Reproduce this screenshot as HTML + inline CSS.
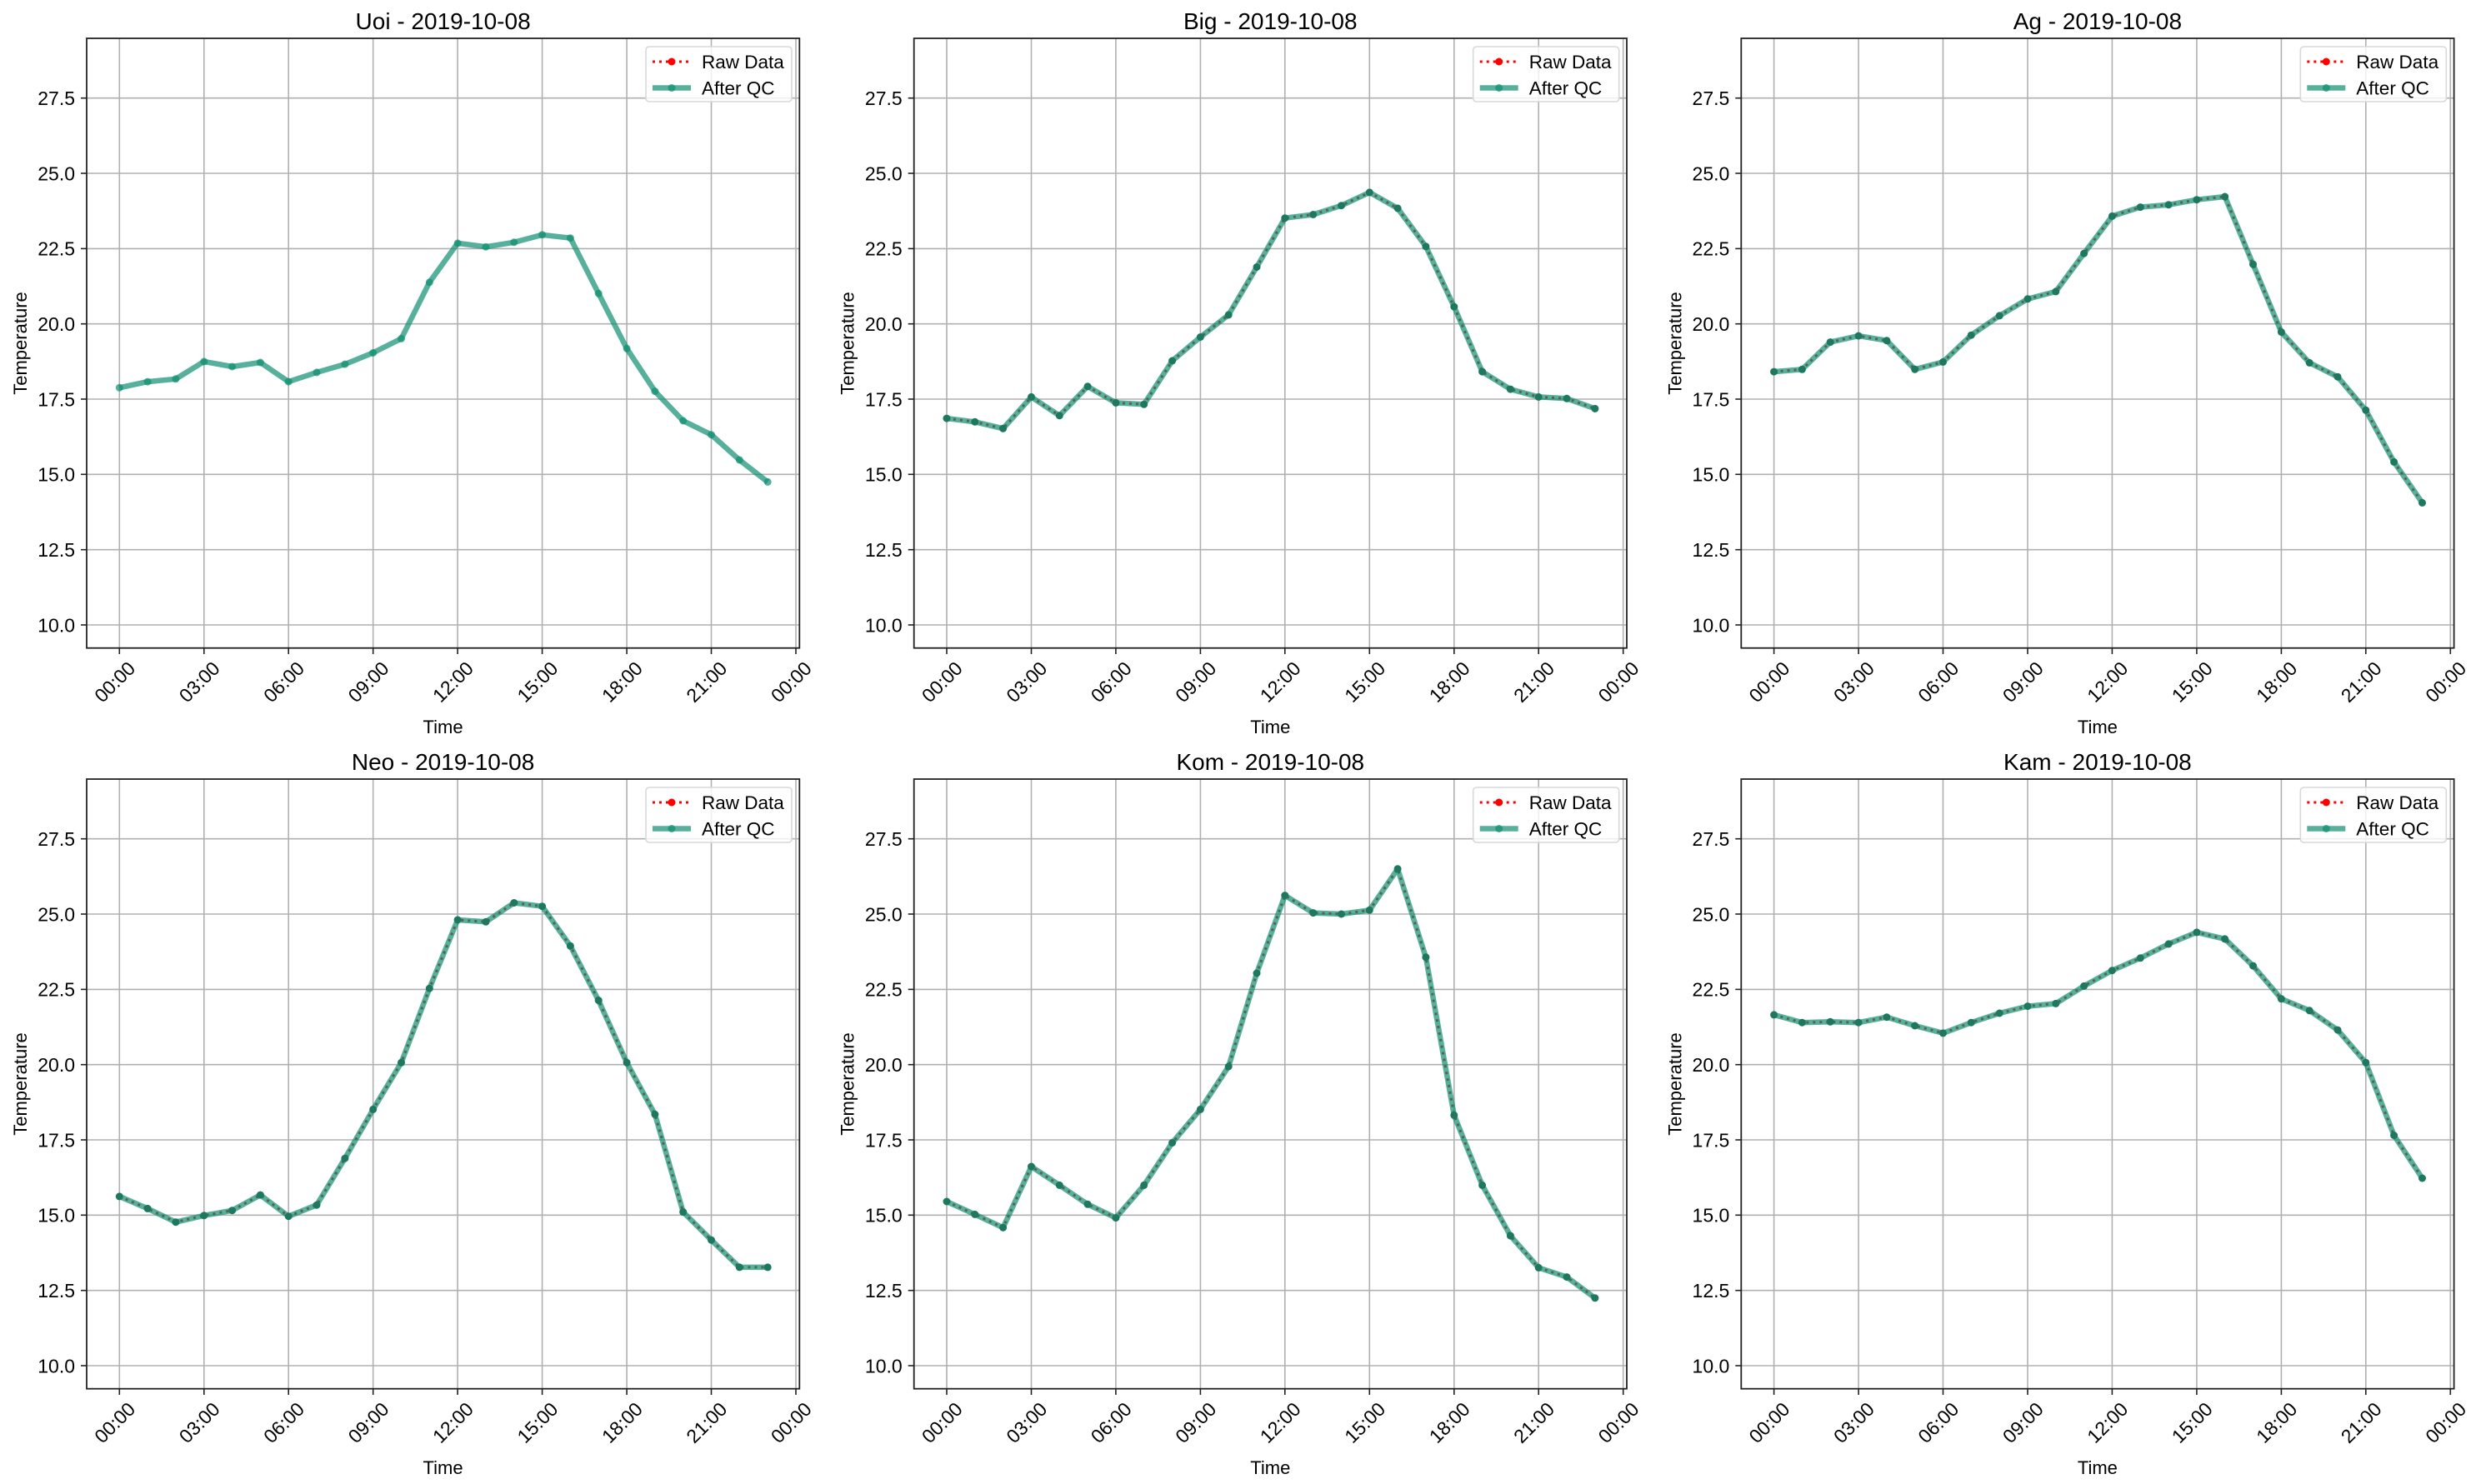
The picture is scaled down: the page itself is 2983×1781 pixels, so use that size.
<!DOCTYPE html>
<html><head><meta charset="utf-8"><style>
html,body{margin:0;padding:0;background:#fff}
svg{display:block}
text{font-family:"Liberation Sans",sans-serif;fill:#000}
.g line{stroke:#b0b0b0;stroke-width:1.6}
.tk line{stroke:#222;stroke-width:1.6}
.yl{font-size:23px;text-anchor:end}
.xl{font-size:23px;text-anchor:middle}
.ttl{font-size:28px;text-anchor:middle}
.al{font-size:22px;text-anchor:middle}
.lg{font-size:22.5px}
.raw{fill:none;stroke:#ff0000;stroke-width:3;stroke-dasharray:3 5}
.qc{fill:none;stroke:rgb(14,142,112);stroke-width:6.5;stroke-opacity:0.7;stroke-linejoin:round}
.mk{fill:rgb(30,120,95)}
</style></head><body>
<svg width="2983" height="1781" viewBox="0 0 2983 1781" xmlns="http://www.w3.org/2000/svg">
<defs>
<g id="frame">
<g class="g">
<line x1="39.3" y1="0" x2="39.3" y2="732"/><line x1="140.8" y1="0" x2="140.8" y2="732"/><line x1="242.2" y1="0" x2="242.2" y2="732"/><line x1="343.7" y1="0" x2="343.7" y2="732"/><line x1="445.1" y1="0" x2="445.1" y2="732"/><line x1="546.6" y1="0" x2="546.6" y2="732"/><line x1="648.1" y1="0" x2="648.1" y2="732"/><line x1="749.5" y1="0" x2="749.5" y2="732"/><line x1="851" y1="0" x2="851" y2="732"/>
<line x1="0" y1="71.7" x2="855" y2="71.7"/><line x1="0" y1="162" x2="855" y2="162"/><line x1="0" y1="252.4" x2="855" y2="252.4"/><line x1="0" y1="342.7" x2="855" y2="342.7"/><line x1="0" y1="433" x2="855" y2="433"/><line x1="0" y1="523.3" x2="855" y2="523.3"/><line x1="0" y1="613.7" x2="855" y2="613.7"/><line x1="0" y1="704" x2="855" y2="704"/>
</g>
<g class="tk">
<line x1="39.3" y1="732" x2="39.3" y2="739"/><line x1="140.8" y1="732" x2="140.8" y2="739"/><line x1="242.2" y1="732" x2="242.2" y2="739"/><line x1="343.7" y1="732" x2="343.7" y2="739"/><line x1="445.1" y1="732" x2="445.1" y2="739"/><line x1="546.6" y1="732" x2="546.6" y2="739"/><line x1="648.1" y1="732" x2="648.1" y2="739"/><line x1="749.5" y1="732" x2="749.5" y2="739"/><line x1="851" y1="732" x2="851" y2="739"/>
<line x1="-7" y1="71.7" x2="0" y2="71.7"/><line x1="-7" y1="162" x2="0" y2="162"/><line x1="-7" y1="252.4" x2="0" y2="252.4"/><line x1="-7" y1="342.7" x2="0" y2="342.7"/><line x1="-7" y1="433" x2="0" y2="433"/><line x1="-7" y1="523.3" x2="0" y2="523.3"/><line x1="-7" y1="613.7" x2="0" y2="613.7"/><line x1="-7" y1="704" x2="0" y2="704"/>
</g>
</g>
<g id="legend">
<rect x="671" y="10" width="175" height="66" rx="4" fill="#fff" fill-opacity="0.8" stroke="#d8d8d8" stroke-width="1.6"/>
<line x1="679" y1="28" x2="725" y2="28" stroke="#f00" stroke-width="3" stroke-dasharray="3 5"/>
<circle cx="702" cy="28" r="4.5" fill="#f00"/>
<line x1="679" y1="59.5" x2="725" y2="59.5" stroke="rgb(14,142,112)" stroke-opacity="0.7" stroke-width="6.5"/>
<circle cx="702" cy="59.5" r="4.5" fill="rgb(14,142,112)" fill-opacity="0.7"/>
</g>
</defs>

<!-- Panel 1 Uoi -->
<g transform="translate(104,46)">
<use href="#frame"/>
<polyline class="qc" points="39.3,419.3 73.1,412.1 106.9,408.8 140.8,387.9 174.6,394 208.4,389 242.2,412.1 276,400.9 309.9,391.1 343.7,377.4 377.5,360.4 411.3,292.8 445.1,245.9 479,250.2 512.8,244.8 546.6,235.8 580.4,239.7 614.2,306.2 648.1,372.3 681.9,423.6 715.7,459 749.5,475.7 783.3,506 817.2,532.4"/>
<g fill="rgb(14,142,112)" fill-opacity="0.7"><circle cx="39.3" cy="419.3" r="4.5"/><circle cx="73.1" cy="412.1" r="4.5"/><circle cx="106.9" cy="408.8" r="4.5"/><circle cx="140.8" cy="387.9" r="4.5"/><circle cx="174.6" cy="394" r="4.5"/><circle cx="208.4" cy="389" r="4.5"/><circle cx="242.2" cy="412.1" r="4.5"/><circle cx="276" cy="400.9" r="4.5"/><circle cx="309.9" cy="391.1" r="4.5"/><circle cx="343.7" cy="377.4" r="4.5"/><circle cx="377.5" cy="360.4" r="4.5"/><circle cx="411.3" cy="292.8" r="4.5"/><circle cx="445.1" cy="245.9" r="4.5"/><circle cx="479" cy="250.2" r="4.5"/><circle cx="512.8" cy="244.8" r="4.5"/><circle cx="546.6" cy="235.8" r="4.5"/><circle cx="580.4" cy="239.7" r="4.5"/><circle cx="614.2" cy="306.2" r="4.5"/><circle cx="648.1" cy="372.3" r="4.5"/><circle cx="681.9" cy="423.6" r="4.5"/><circle cx="715.7" cy="459" r="4.5"/><circle cx="749.5" cy="475.7" r="4.5"/><circle cx="783.3" cy="506" r="4.5"/><circle cx="817.2" cy="532.4" r="4.5"/></g>
<rect x="0" y="0" width="855.3" height="731.7" fill="none" stroke="#222" stroke-width="1.8"/>
<use href="#legend"/>
<text class="lg" x="738" y="36">Raw Data</text><text class="lg" x="738" y="67.5">After QC</text>
<text class="ttl" x="427.6" y="-11">Uoi - 2019-10-08</text>
<g class="yl"><text x="-14" y="80">27.5</text><text x="-14" y="170.3">25.0</text><text x="-14" y="260.7">22.5</text><text x="-14" y="351">20.0</text><text x="-14" y="441.3">17.5</text><text x="-14" y="531.6">15.0</text><text x="-14" y="622">12.5</text><text x="-14" y="712.3">10.0</text></g>
<g class="xl"><text transform="translate(39.3,778) rotate(-45)">00:00</text><text transform="translate(140.8,778) rotate(-45)">03:00</text><text transform="translate(242.2,778) rotate(-45)">06:00</text><text transform="translate(343.7,778) rotate(-45)">09:00</text><text transform="translate(445.1,778) rotate(-45)">12:00</text><text transform="translate(546.6,778) rotate(-45)">15:00</text><text transform="translate(648.1,778) rotate(-45)">18:00</text><text transform="translate(749.5,778) rotate(-45)">21:00</text><text transform="translate(851,778) rotate(-45)">00:00</text></g>
<text class="al" x="427.6" y="834">Time</text>
<text class="al" transform="translate(-72,366) rotate(-90)">Temperature</text>
</g>

<!-- Panel 2 Big -->
<g transform="translate(1096.7,46)">
<use href="#frame"/>
<polyline class="raw" points="39.3,456.1 73.1,460.3 106.9,468.3 140.8,430.4 174.6,452.8 208.4,417.8 242.2,437.4 276,439.3 309.9,387 343.7,358.5 377.5,331.9 411.3,274.5 445.1,215.7 479,211.5 512.8,200.7 546.6,184.9 580.4,204 614.2,249.8 648.1,322.1 681.9,400.1 715.7,421.1 749.5,430.4 783.3,432.3 817.2,444.4"/>
<polyline class="qc" points="39.3,456.1 73.1,460.3 106.9,468.3 140.8,430.4 174.6,452.8 208.4,417.8 242.2,437.4 276,439.3 309.9,387 343.7,358.5 377.5,331.9 411.3,274.5 445.1,215.7 479,211.5 512.8,200.7 546.6,184.9 580.4,204 614.2,249.8 648.1,322.1 681.9,400.1 715.7,421.1 749.5,430.4 783.3,432.3 817.2,444.4"/>
<g class="mk"><circle cx="39.3" cy="456.1" r="4.5"/><circle cx="73.1" cy="460.3" r="4.5"/><circle cx="106.9" cy="468.3" r="4.5"/><circle cx="140.8" cy="430.4" r="4.5"/><circle cx="174.6" cy="452.8" r="4.5"/><circle cx="208.4" cy="417.8" r="4.5"/><circle cx="242.2" cy="437.4" r="4.5"/><circle cx="276" cy="439.3" r="4.5"/><circle cx="309.9" cy="387" r="4.5"/><circle cx="343.7" cy="358.5" r="4.5"/><circle cx="377.5" cy="331.9" r="4.5"/><circle cx="411.3" cy="274.5" r="4.5"/><circle cx="445.1" cy="215.7" r="4.5"/><circle cx="479" cy="211.5" r="4.5"/><circle cx="512.8" cy="200.7" r="4.5"/><circle cx="546.6" cy="184.9" r="4.5"/><circle cx="580.4" cy="204" r="4.5"/><circle cx="614.2" cy="249.8" r="4.5"/><circle cx="648.1" cy="322.1" r="4.5"/><circle cx="681.9" cy="400.1" r="4.5"/><circle cx="715.7" cy="421.1" r="4.5"/><circle cx="749.5" cy="430.4" r="4.5"/><circle cx="783.3" cy="432.3" r="4.5"/><circle cx="817.2" cy="444.4" r="4.5"/></g>
<rect x="0" y="0" width="855.3" height="731.7" fill="none" stroke="#222" stroke-width="1.8"/>
<use href="#legend"/>
<text class="lg" x="738" y="36">Raw Data</text><text class="lg" x="738" y="67.5">After QC</text>
<text class="ttl" x="427.6" y="-11">Big - 2019-10-08</text>
<g class="yl"><text x="-14" y="80">27.5</text><text x="-14" y="170.3">25.0</text><text x="-14" y="260.7">22.5</text><text x="-14" y="351">20.0</text><text x="-14" y="441.3">17.5</text><text x="-14" y="531.6">15.0</text><text x="-14" y="622">12.5</text><text x="-14" y="712.3">10.0</text></g>
<g class="xl"><text transform="translate(39.3,778) rotate(-45)">00:00</text><text transform="translate(140.8,778) rotate(-45)">03:00</text><text transform="translate(242.2,778) rotate(-45)">06:00</text><text transform="translate(343.7,778) rotate(-45)">09:00</text><text transform="translate(445.1,778) rotate(-45)">12:00</text><text transform="translate(546.6,778) rotate(-45)">15:00</text><text transform="translate(648.1,778) rotate(-45)">18:00</text><text transform="translate(749.5,778) rotate(-45)">21:00</text><text transform="translate(851,778) rotate(-45)">00:00</text></g>
<text class="al" x="427.6" y="834">Time</text>
<text class="al" transform="translate(-72,366) rotate(-90)">Temperature</text>
</g>

<!-- Panel 3 Ag -->
<g transform="translate(2089.3,46)">
<use href="#frame"/>
<polyline class="raw" points="39.3,400.1 73.1,397.3 106.9,364.6 140.8,357.1 174.6,362.7 208.4,397.3 242.2,388.4 276,356.2 309.9,332.9 343.7,312.8 377.5,303.9 411.3,258.2 445.1,213.4 479,202.6 512.8,199.8 546.6,193.7 580.4,190 614.2,271.2 648.1,352.5 681.9,389.4 715.7,406.2 749.5,446.3 783.3,508.4 817.2,557.4"/>
<polyline class="qc" points="39.3,400.1 73.1,397.3 106.9,364.6 140.8,357.1 174.6,362.7 208.4,397.3 242.2,388.4 276,356.2 309.9,332.9 343.7,312.8 377.5,303.9 411.3,258.2 445.1,213.4 479,202.6 512.8,199.8 546.6,193.7 580.4,190 614.2,271.2 648.1,352.5 681.9,389.4 715.7,406.2 749.5,446.3 783.3,508.4 817.2,557.4"/>
<g class="mk"><circle cx="39.3" cy="400.1" r="4.5"/><circle cx="73.1" cy="397.3" r="4.5"/><circle cx="106.9" cy="364.6" r="4.5"/><circle cx="140.8" cy="357.1" r="4.5"/><circle cx="174.6" cy="362.7" r="4.5"/><circle cx="208.4" cy="397.3" r="4.5"/><circle cx="242.2" cy="388.4" r="4.5"/><circle cx="276" cy="356.2" r="4.5"/><circle cx="309.9" cy="332.9" r="4.5"/><circle cx="343.7" cy="312.8" r="4.5"/><circle cx="377.5" cy="303.9" r="4.5"/><circle cx="411.3" cy="258.2" r="4.5"/><circle cx="445.1" cy="213.4" r="4.5"/><circle cx="479" cy="202.6" r="4.5"/><circle cx="512.8" cy="199.8" r="4.5"/><circle cx="546.6" cy="193.7" r="4.5"/><circle cx="580.4" cy="190" r="4.5"/><circle cx="614.2" cy="271.2" r="4.5"/><circle cx="648.1" cy="352.5" r="4.5"/><circle cx="681.9" cy="389.4" r="4.5"/><circle cx="715.7" cy="406.2" r="4.5"/><circle cx="749.5" cy="446.3" r="4.5"/><circle cx="783.3" cy="508.4" r="4.5"/><circle cx="817.2" cy="557.4" r="4.5"/></g>
<rect x="0" y="0" width="855.3" height="731.7" fill="none" stroke="#222" stroke-width="1.8"/>
<use href="#legend"/>
<text class="lg" x="738" y="36">Raw Data</text><text class="lg" x="738" y="67.5">After QC</text>
<text class="ttl" x="427.6" y="-11">Ag - 2019-10-08</text>
<g class="yl"><text x="-14" y="80">27.5</text><text x="-14" y="170.3">25.0</text><text x="-14" y="260.7">22.5</text><text x="-14" y="351">20.0</text><text x="-14" y="441.3">17.5</text><text x="-14" y="531.6">15.0</text><text x="-14" y="622">12.5</text><text x="-14" y="712.3">10.0</text></g>
<g class="xl"><text transform="translate(39.3,778) rotate(-45)">00:00</text><text transform="translate(140.8,778) rotate(-45)">03:00</text><text transform="translate(242.2,778) rotate(-45)">06:00</text><text transform="translate(343.7,778) rotate(-45)">09:00</text><text transform="translate(445.1,778) rotate(-45)">12:00</text><text transform="translate(546.6,778) rotate(-45)">15:00</text><text transform="translate(648.1,778) rotate(-45)">18:00</text><text transform="translate(749.5,778) rotate(-45)">21:00</text><text transform="translate(851,778) rotate(-45)">00:00</text></g>
<text class="al" x="427.6" y="834">Time</text>
<text class="al" transform="translate(-72,366) rotate(-90)">Temperature</text>
</g>

<!-- Panel 4 Neo -->
<g transform="translate(104,935)">
<use href="#frame"/>
<polyline class="raw" points="39.3,500.9 73.1,515.4 106.9,531.7 140.8,523.8 174.6,517.7 208.4,499.1 242.2,524.7 276,511.2 309.9,455.2 343.7,396.4 377.5,340.3 411.3,251.2 445.1,169 479,171.3 512.8,148.5 546.6,152.7 580.4,200.3 614.2,265.6 648.1,340.3 681.9,402.4 715.7,519.6 749.5,553.2 783.3,585.9 817.2,585.9"/>
<polyline class="qc" points="39.3,500.9 73.1,515.4 106.9,531.7 140.8,523.8 174.6,517.7 208.4,499.1 242.2,524.7 276,511.2 309.9,455.2 343.7,396.4 377.5,340.3 411.3,251.2 445.1,169 479,171.3 512.8,148.5 546.6,152.7 580.4,200.3 614.2,265.6 648.1,340.3 681.9,402.4 715.7,519.6 749.5,553.2 783.3,585.9 817.2,585.9"/>
<g class="mk"><circle cx="39.3" cy="500.9" r="4.5"/><circle cx="73.1" cy="515.4" r="4.5"/><circle cx="106.9" cy="531.7" r="4.5"/><circle cx="140.8" cy="523.8" r="4.5"/><circle cx="174.6" cy="517.7" r="4.5"/><circle cx="208.4" cy="499.1" r="4.5"/><circle cx="242.2" cy="524.7" r="4.5"/><circle cx="276" cy="511.2" r="4.5"/><circle cx="309.9" cy="455.2" r="4.5"/><circle cx="343.7" cy="396.4" r="4.5"/><circle cx="377.5" cy="340.3" r="4.5"/><circle cx="411.3" cy="251.2" r="4.5"/><circle cx="445.1" cy="169" r="4.5"/><circle cx="479" cy="171.3" r="4.5"/><circle cx="512.8" cy="148.5" r="4.5"/><circle cx="546.6" cy="152.7" r="4.5"/><circle cx="580.4" cy="200.3" r="4.5"/><circle cx="614.2" cy="265.6" r="4.5"/><circle cx="648.1" cy="340.3" r="4.5"/><circle cx="681.9" cy="402.4" r="4.5"/><circle cx="715.7" cy="519.6" r="4.5"/><circle cx="749.5" cy="553.2" r="4.5"/><circle cx="783.3" cy="585.9" r="4.5"/><circle cx="817.2" cy="585.9" r="4.5"/></g>
<rect x="0" y="0" width="855.3" height="731.7" fill="none" stroke="#222" stroke-width="1.8"/>
<use href="#legend"/>
<text class="lg" x="738" y="36">Raw Data</text><text class="lg" x="738" y="67.5">After QC</text>
<text class="ttl" x="427.6" y="-11">Neo - 2019-10-08</text>
<g class="yl"><text x="-14" y="80">27.5</text><text x="-14" y="170.3">25.0</text><text x="-14" y="260.7">22.5</text><text x="-14" y="351">20.0</text><text x="-14" y="441.3">17.5</text><text x="-14" y="531.6">15.0</text><text x="-14" y="622">12.5</text><text x="-14" y="712.3">10.0</text></g>
<g class="xl"><text transform="translate(39.3,778) rotate(-45)">00:00</text><text transform="translate(140.8,778) rotate(-45)">03:00</text><text transform="translate(242.2,778) rotate(-45)">06:00</text><text transform="translate(343.7,778) rotate(-45)">09:00</text><text transform="translate(445.1,778) rotate(-45)">12:00</text><text transform="translate(546.6,778) rotate(-45)">15:00</text><text transform="translate(648.1,778) rotate(-45)">18:00</text><text transform="translate(749.5,778) rotate(-45)">21:00</text><text transform="translate(851,778) rotate(-45)">00:00</text></g>
<text class="al" x="427.6" y="834">Time</text>
<text class="al" transform="translate(-72,366) rotate(-90)">Temperature</text>
</g>

<!-- Panel 5 Kom -->
<g transform="translate(1096.7,935)">
<use href="#frame"/>
<polyline class="raw" points="39.3,507 73.1,522.4 106.9,538.3 140.8,465 174.6,487.4 208.4,510.3 242.2,526.6 276,487.4 309.9,436.5 343.7,396.4 377.5,345 411.3,233 445.1,139.6 479,160.6 512.8,162 546.6,157.3 580.4,107.8 614.2,213.8 648.1,403.4 681.9,487.4 715.7,548.1 749.5,586.4 783.3,597.6 817.2,622.8"/>
<polyline class="qc" points="39.3,507 73.1,522.4 106.9,538.3 140.8,465 174.6,487.4 208.4,510.3 242.2,526.6 276,487.4 309.9,436.5 343.7,396.4 377.5,345 411.3,233 445.1,139.6 479,160.6 512.8,162 546.6,157.3 580.4,107.8 614.2,213.8 648.1,403.4 681.9,487.4 715.7,548.1 749.5,586.4 783.3,597.6 817.2,622.8"/>
<g class="mk"><circle cx="39.3" cy="507" r="4.5"/><circle cx="73.1" cy="522.4" r="4.5"/><circle cx="106.9" cy="538.3" r="4.5"/><circle cx="140.8" cy="465" r="4.5"/><circle cx="174.6" cy="487.4" r="4.5"/><circle cx="208.4" cy="510.3" r="4.5"/><circle cx="242.2" cy="526.6" r="4.5"/><circle cx="276" cy="487.4" r="4.5"/><circle cx="309.9" cy="436.5" r="4.5"/><circle cx="343.7" cy="396.4" r="4.5"/><circle cx="377.5" cy="345" r="4.5"/><circle cx="411.3" cy="233" r="4.5"/><circle cx="445.1" cy="139.6" r="4.5"/><circle cx="479" cy="160.6" r="4.5"/><circle cx="512.8" cy="162" r="4.5"/><circle cx="546.6" cy="157.3" r="4.5"/><circle cx="580.4" cy="107.8" r="4.5"/><circle cx="614.2" cy="213.8" r="4.5"/><circle cx="648.1" cy="403.4" r="4.5"/><circle cx="681.9" cy="487.4" r="4.5"/><circle cx="715.7" cy="548.1" r="4.5"/><circle cx="749.5" cy="586.4" r="4.5"/><circle cx="783.3" cy="597.6" r="4.5"/><circle cx="817.2" cy="622.8" r="4.5"/></g>
<rect x="0" y="0" width="855.3" height="731.7" fill="none" stroke="#222" stroke-width="1.8"/>
<use href="#legend"/>
<text class="lg" x="738" y="36">Raw Data</text><text class="lg" x="738" y="67.5">After QC</text>
<text class="ttl" x="427.6" y="-11">Kom - 2019-10-08</text>
<g class="yl"><text x="-14" y="80">27.5</text><text x="-14" y="170.3">25.0</text><text x="-14" y="260.7">22.5</text><text x="-14" y="351">20.0</text><text x="-14" y="441.3">17.5</text><text x="-14" y="531.6">15.0</text><text x="-14" y="622">12.5</text><text x="-14" y="712.3">10.0</text></g>
<g class="xl"><text transform="translate(39.3,778) rotate(-45)">00:00</text><text transform="translate(140.8,778) rotate(-45)">03:00</text><text transform="translate(242.2,778) rotate(-45)">06:00</text><text transform="translate(343.7,778) rotate(-45)">09:00</text><text transform="translate(445.1,778) rotate(-45)">12:00</text><text transform="translate(546.6,778) rotate(-45)">15:00</text><text transform="translate(648.1,778) rotate(-45)">18:00</text><text transform="translate(749.5,778) rotate(-45)">21:00</text><text transform="translate(851,778) rotate(-45)">00:00</text></g>
<text class="al" x="427.6" y="834">Time</text>
<text class="al" transform="translate(-72,366) rotate(-90)">Temperature</text>
</g>

<!-- Panel 6 Kam -->
<g transform="translate(2089.3,935)">
<use href="#frame"/>
<polyline class="raw" points="39.3,282.9 73.1,292.2 106.9,291.3 140.8,292.2 174.6,285.7 208.4,296 242.2,304.9 276,292.2 309.9,281 343.7,272.6 377.5,269.4 411.3,248.4 445.1,229.7 479,214.8 512.8,197.9 546.6,183.9 580.4,191.9 614.2,224.1 648.1,263.8 681.9,277.8 715.7,301.1 749.5,340.3 783.3,427.6 817.2,479"/>
<polyline class="qc" points="39.3,282.9 73.1,292.2 106.9,291.3 140.8,292.2 174.6,285.7 208.4,296 242.2,304.9 276,292.2 309.9,281 343.7,272.6 377.5,269.4 411.3,248.4 445.1,229.7 479,214.8 512.8,197.9 546.6,183.9 580.4,191.9 614.2,224.1 648.1,263.8 681.9,277.8 715.7,301.1 749.5,340.3 783.3,427.6 817.2,479"/>
<g class="mk"><circle cx="39.3" cy="282.9" r="4.5"/><circle cx="73.1" cy="292.2" r="4.5"/><circle cx="106.9" cy="291.3" r="4.5"/><circle cx="140.8" cy="292.2" r="4.5"/><circle cx="174.6" cy="285.7" r="4.5"/><circle cx="208.4" cy="296" r="4.5"/><circle cx="242.2" cy="304.9" r="4.5"/><circle cx="276" cy="292.2" r="4.5"/><circle cx="309.9" cy="281" r="4.5"/><circle cx="343.7" cy="272.6" r="4.5"/><circle cx="377.5" cy="269.4" r="4.5"/><circle cx="411.3" cy="248.4" r="4.5"/><circle cx="445.1" cy="229.7" r="4.5"/><circle cx="479" cy="214.8" r="4.5"/><circle cx="512.8" cy="197.9" r="4.5"/><circle cx="546.6" cy="183.9" r="4.5"/><circle cx="580.4" cy="191.9" r="4.5"/><circle cx="614.2" cy="224.1" r="4.5"/><circle cx="648.1" cy="263.8" r="4.5"/><circle cx="681.9" cy="277.8" r="4.5"/><circle cx="715.7" cy="301.1" r="4.5"/><circle cx="749.5" cy="340.3" r="4.5"/><circle cx="783.3" cy="427.6" r="4.5"/><circle cx="817.2" cy="479" r="4.5"/></g>
<rect x="0" y="0" width="855.3" height="731.7" fill="none" stroke="#222" stroke-width="1.8"/>
<use href="#legend"/>
<text class="lg" x="738" y="36">Raw Data</text><text class="lg" x="738" y="67.5">After QC</text>
<text class="ttl" x="427.6" y="-11">Kam - 2019-10-08</text>
<g class="yl"><text x="-14" y="80">27.5</text><text x="-14" y="170.3">25.0</text><text x="-14" y="260.7">22.5</text><text x="-14" y="351">20.0</text><text x="-14" y="441.3">17.5</text><text x="-14" y="531.6">15.0</text><text x="-14" y="622">12.5</text><text x="-14" y="712.3">10.0</text></g>
<g class="xl"><text transform="translate(39.3,778) rotate(-45)">00:00</text><text transform="translate(140.8,778) rotate(-45)">03:00</text><text transform="translate(242.2,778) rotate(-45)">06:00</text><text transform="translate(343.7,778) rotate(-45)">09:00</text><text transform="translate(445.1,778) rotate(-45)">12:00</text><text transform="translate(546.6,778) rotate(-45)">15:00</text><text transform="translate(648.1,778) rotate(-45)">18:00</text><text transform="translate(749.5,778) rotate(-45)">21:00</text><text transform="translate(851,778) rotate(-45)">00:00</text></g>
<text class="al" x="427.6" y="834">Time</text>
<text class="al" transform="translate(-72,366) rotate(-90)">Temperature</text>
</g>
</svg>
</body></html>
